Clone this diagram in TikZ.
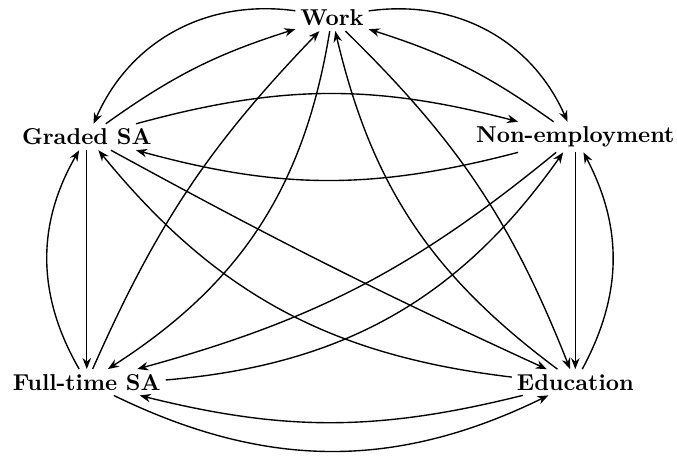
\documentclass[tikz,border=0pt]{standalone}
\usepackage{amsmath}
\usetikzlibrary{positioning,arrows.meta}

\begin{document}
\begin{tikzpicture}[
    on grid,
    state/.style={font=\bfseries,inner sep=2pt},
    arrow/.style={-{Stealth[length=4.8pt,width=3.7pt]},line width=0.6pt}
  ]
    \useasboundingbox (-5.077,0.275) rectangle (5.275,-6.727);
    \node[state] (work) at (0,0) {Work};
    \node[state,below left=1.82cm and 3.75cm of work] (graded) {Graded SA};
    \node[state,below right=1.82cm and 3.72cm of work] (nonemp) {Non-employment};
    \node[state,below=3.75cm of graded] (fulltime) {Full-time SA};
    \node[state,below=3.75cm of nonemp] (edu) {Education};
    % top part
    \draw[arrow] (work) to[bend right=37] (graded);
    \draw[arrow] (graded) to[bend left=9] (work);
    \draw[arrow] (work) to[bend left=37] (nonemp);
    \draw[arrow] (nonemp) to[bend right=9] (work);
    \draw[arrow] (graded) to[bend left=15] (nonemp);
    \draw[arrow] (nonemp) to[bend left=15] (graded);
    % sides
    \draw[arrow] (graded) -- (fulltime);
    \draw[arrow] (fulltime) to[bend left=30] (graded);
    \draw[arrow] (nonemp) -- (edu);
    \draw[arrow] (edu) to[bend right=28] (nonemp);
    % long ones
    \draw[arrow] (fulltime) to[bend left=10] (work);
    \draw[arrow] (work) to[bend left=24] (fulltime);
    \draw[arrow] (edu) to[bend left=20] (work);
    \draw[arrow] (work) to[bend left=12] (edu);
    \draw[arrow] (graded) to[bend right=2] (edu);
    \draw[arrow] (edu) to[bend left=22] (graded);
    \draw[arrow] (nonemp) to[bend left=12] (fulltime);
    \draw[arrow] (fulltime) to[bend right=25] (nonemp);
    % bottom
    \draw[arrow] (edu) to[bend left=14] (fulltime);
    \draw[arrow] (fulltime) to[bend right=26] (edu);
\end{tikzpicture}
\end{document}
